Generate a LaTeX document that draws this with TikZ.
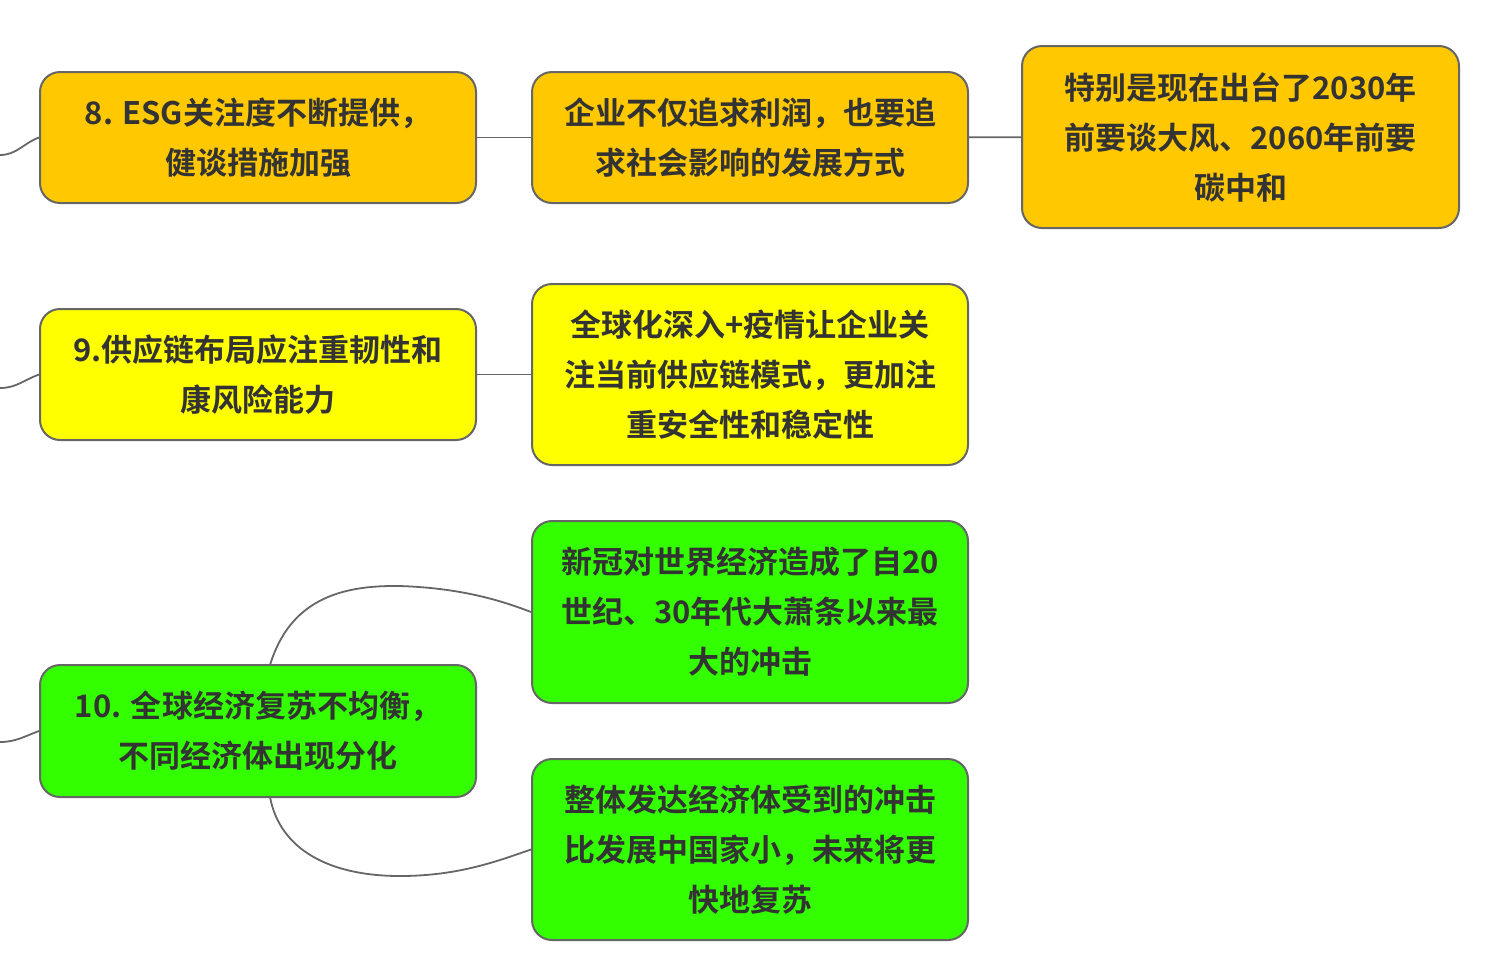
\documentclass[tikz,border=0pt]{standalone}
\usepackage{fontspec}
\setmainfont{Noto Sans CJK SC}[BoldFont={* Bold}]
\begin{document}
\begin{tikzpicture}[x=0.5pt,y=-0.5pt,
 box/.style={draw=black!60,line width=1pt,rounded corners=10pt,minimum width=218pt,align=center,text=black!80,font=\fontsize{15.5}{25}\selectfont\bfseries,inner sep=0pt},
 ln/.style={draw=black!60,line width=0.9pt}]
\useasboundingbox (0,0) rectangle (1502,976);
\definecolor{orng}{HTML}{FFC800}\definecolor{yel}{HTML}{FFFF00}\definecolor{grn}{HTML}{33FF00}
\node[box,fill=orng,minimum height=65.5pt] (a1) at (258,137.5) {8. ESG关注度不断提供，\\健谈措施加强};
\node[box,fill=orng,minimum height=65.5pt] (a2) at (750,137.5) {企业不仅追求利润，也要追\\求社会影响的发展方式};
\node[box,fill=orng,minimum height=91pt,minimum width=218.5pt] (a3) at (1240.5,137) {特别是现在出台了2030年\\前要谈大风、2060年前要\\碳中和};
\node[box,fill=yel,minimum height=65.5pt] (b1) at (258,374.5) {9.供应链布局应注重韧性和\\康风险能力};
\node[box,fill=yel,minimum height=90.5pt] (b2) at (750,374.5) {全球化深入+疫情让企业关\\注当前供应链模式，更加注\\重安全性和稳定性};
\node[box,fill=grn,minimum height=66pt] (c1) at (258,731) {10. 全球经济复苏不均衡，\\不同经济体出现分化};
\node[box,fill=grn,minimum height=91pt] (c2) at (750,612) {新冠对世界经济造成了自20\\世纪、30年代大萧条以来最\\大的冲击};
\node[box,fill=grn,minimum height=90.5pt] (c3) at (750,849.5) {整体发达经济体受到的冲击\\比发展中国家小，未来将更\\快地复苏};
\coordinate (l1) at (0,155);\coordinate (l2) at (0,388);\coordinate (l3) at (0,742);
\draw[ln] (l1) to[out=0,in=200] (a1.west);
\draw[ln] (l2) to[out=0,in=200] (b1.west);
\draw[ln] (l3) to[out=0,in=200] (c1.west);
\draw[ln] (a1) -- (a2);\draw[ln] (a2) -- (a3);\draw[ln] (b1) -- (b2);
\draw[ln] (270,665) .. controls (290,600) and (340,585) .. (400,586) .. controls (460,588) and (500,600) .. (c2.west);
\draw[ln] (270,797) .. controls (280,850) and (330,876) .. (400,876) .. controls (460,876) and (500,860) .. (c3.west);
\end{tikzpicture}
\end{document}
